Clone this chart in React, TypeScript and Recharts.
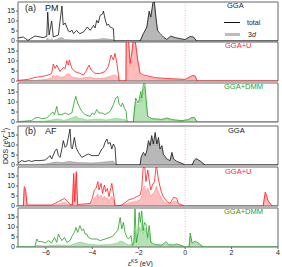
import { ComposedChart, Line, Area, XAxis, YAxis, ReferenceLine, ReferenceArea } from 'recharts';

type P = [number, number];

const eTicks = [-6, -4, -2, 0, 2, 4];
const dosTicks = [0, 5, 10, 15];

// (a) PM
const pmGgaTotal: P[] = [[-7.2,1.5],[-6.97,2],[-6.77,0.3],[-6.47,2.5],[-6.12,1.7],[-5.96,2.3],[-5.92,14.5],[-5.86,3],[-5.75,10],[-5.68,2],[-5.46,3],[-5.31,17.5],[-5.25,8],[-5.17,9],[-5.10,7],[-5.03,5],[-4.96,4.5],[-4.88,5.5],[-4.81,3.7],[-4.67,5.3],[-4.6,4.2],[-4.53,3.7],[-4.38,4.5],[-4.28,6],[-4.21,7],[-4.09,5.3],[-3.95,7.8],[-3.88,6.5],[-3.81,10.3],[-3.74,9],[-3.66,12.8],[-3.56,13.5],[-3.52,15],[-3.45,11],[-3.37,7.8],[-3.31,8.5],[-3.23,7],[-3.09,6.2],[-3.06,0],[-1.94,0],[-1.80,3.7],[-1.65,7],[-1.55,15],[-1.48,12],[-1.39,19],[-1.34,21],[-1.26,12],[-1.19,5.3],[-1.08,3.7],[-0.94,2],[-0.79,0.8],[-0.62,2.5],[-0.43,1.7],[-0.22,1.2],[0,0.7],[0.22,2.3],[0.36,2],[0.5,0],[4,0]];
const pmGga3d: P[] = [[-7.2,0.1],[-6.0,0.2],[-5.92,1.5],[-5.86,0.3],[-5.75,1],[-5.68,0.3],[-5.31,1.8],[-5.2,0.8],[-4.8,0.5],[-4.2,0.6],[-3.8,0.8],[-3.52,1.2],[-3.1,0.6],[-3.06,0],[-1.94,0],[-1.80,3.2],[-1.65,6.5],[-1.55,14],[-1.48,11],[-1.39,18.5],[-1.34,20.5],[-1.26,11.5],[-1.19,4.6],[-1.08,3],[-0.94,1.6],[-0.79,0.6],[-0.62,2.2],[-0.43,1.4],[-0.22,1],[0,0.5],[0.22,2],[0.36,1.7],[0.5,0],[4,0]];

const pmUTotal: P[] = [[-7.2,0.3],[-6.75,0.8],[-6.47,1.8],[-6.18,2.2],[-5.89,3],[-5.75,3.8],[-5.68,8.5],[-5.60,6.3],[-5.53,8],[-5.39,4.7],[-5.25,6.8],[-5.17,6.3],[-5.10,10.2],[-5.03,8],[-4.99,10.5],[-4.88,6.3],[-4.74,4.7],[-4.53,3.8],[-4.38,3],[-4.28,4.7],[-4.14,8],[-4.05,5.5],[-3.88,3.8],[-3.66,3.8],[-3.45,4.7],[-3.31,7.2],[-3.19,13],[-3.09,10.5],[-3.02,13.8],[-2.94,8.8],[-2.84,0],[-2.55,0],[-2.54,21],[-2.44,21],[-2.37,8.8],[-2.30,14],[-2.23,21],[-2.16,21],[-2.04,10.5],[-1.94,3.8],[-1.80,3],[-1.29,1.7],[-0.86,1.3],[-0.29,1],[0,0.8],[0.22,2.2],[0.34,2.8],[0.43,2.5],[0.52,0],[4,0]];
const pmU3d: P[] = [[-7.2,0],[-6.5,0.3],[-6.0,0.8],[-5.75,1.5],[-5.68,3],[-5.60,2],[-5.53,2.8],[-5.39,1.8],[-5.17,2.2],[-5.10,3.5],[-4.99,3.5],[-4.88,2],[-4.53,1.2],[-4.14,2],[-3.88,1.2],[-3.45,1.5],[-3.19,2.5],[-3.02,3],[-2.90,2],[-2.84,0],[-2.55,0],[-2.54,19],[-2.44,19],[-2.37,7],[-2.30,12],[-2.23,20],[-2.16,20],[-2.04,9],[-1.94,3],[-1.80,2.3],[-1.29,1.2],[-0.86,1],[-0.29,0.7],[0,0.5],[0.22,1.8],[0.34,2.4],[0.43,2.1],[0.52,0],[4,0]];

const pmDmmTotal: P[] = [[-7.2,0.2],[-6.61,0.7],[-6.47,2],[-6.32,2.3],[-6.18,1.7],[-5.96,2],[-5.82,3.7],[-5.70,5],[-5.63,3.7],[-5.53,7.8],[-5.46,3.7],[-5.31,3.7],[-5.17,4.5],[-5.03,3.7],[-4.88,4.5],[-4.77,10.3],[-4.71,12.8],[-4.63,9.5],[-4.53,7],[-4.45,5.3],[-4.31,3.7],[-4.09,2.8],[-4.00,4.5],[-3.91,3.7],[-3.81,6.2],[-3.71,4.5],[-3.59,4.5],[-3.45,3.7],[-3.23,5.3],[-3.09,8.7],[-2.99,12],[-2.90,12.8],[-2.84,8.7],[-2.76,7.8],[-2.70,9.5],[-2.62,7],[-2.54,5.3],[-2.50,0],[-2.23,0],[-2.20,4.5],[-2.13,12],[-2.04,9.5],[-1.98,11],[-1.91,15.3],[-1.87,12],[-1.80,18.7],[-1.75,21],[-1.68,11],[-1.61,2.8],[-1.44,1.7],[-1.00,1.3],[-0.79,2],[-0.57,1.2],[-0.14,0.7],[0.14,1.2],[0.29,2.3],[0.40,2.2],[0.52,0],[4,0]];
const pmDmm3d: P[] = [[-7.2,0],[-6.5,0.3],[-6.0,0.5],[-5.53,1.5],[-5.2,0.8],[-4.77,2.5],[-4.71,3],[-4.6,2],[-4.2,1],[-3.81,1.5],[-3.4,1],[-3.0,1.8],[-2.76,1.5],[-2.55,1],[-2.50,0],[-2.23,0],[-2.20,3.5],[-2.13,10],[-2.04,8],[-1.98,9.5],[-1.91,13],[-1.87,10],[-1.80,16],[-1.75,18],[-1.68,9],[-1.61,2.3],[-1.44,1.3],[-1.00,1],[-0.79,1.6],[-0.57,0.9],[-0.14,0.5],[0.14,0.9],[0.29,1.9],[0.40,1.8],[0.52,0],[4,0]];

// (b) AF
const afGgaTotal: P[] = [[-7.2,1],[-7.04,2.2],[-6.90,1.7],[-6.75,2.2],[-6.61,1.8],[-6.47,2.2],[-6.25,2.2],[-6.03,2.5],[-5.89,3.8],[-5.82,4.7],[-5.75,3],[-5.60,7.2],[-5.53,8],[-5.46,4.7],[-5.39,3.8],[-5.31,8],[-5.25,12.2],[-5.17,8.8],[-5.10,9.7],[-5.03,13.8],[-4.96,18],[-4.91,8.8],[-4.86,8],[-4.77,13.8],[-4.70,8.8],[-4.60,6.3],[-4.45,3.8],[-4.31,4.7],[-4.17,5.5],[-4.02,4.7],[-3.88,4.7],[-3.74,4.7],[-3.59,8],[-3.52,8.8],[-3.45,11.3],[-3.37,13],[-3.31,10.5],[-3.23,11.3],[-3.16,8],[-3.09,10.5],[-3.02,8.8],[-2.97,0],[-1.94,0],[-1.90,3.8],[-1.80,6.3],[-1.72,4.7],[-1.65,7.2],[-1.58,12.2],[-1.51,9.7],[-1.44,14.7],[-1.37,10.5],[-1.29,16.3],[-1.22,10.5],[-1.15,13.8],[-1.08,8],[-1.00,9.7],[-0.94,5.5],[-0.79,3],[-0.65,2.2],[-0.57,6.3],[-0.50,3],[-0.36,1.8],[-0.14,0.8],[0,0],[0.30,0],[0.40,2.5],[0.47,3.2],[0.56,2.6],[0.65,2],[0.86,0],[4,0]];
const afGga3d: P[] = [[-7.2,0.2],[-6.5,0.3],[-6.0,0.5],[-5.6,1.5],[-5.3,1.2],[-5.0,1.8],[-4.6,1.2],[-4.0,1],[-3.5,1.5],[-3.1,2],[-2.97,0],[-1.94,0],[-1.90,3],[-1.80,5.3],[-1.72,4],[-1.65,6.3],[-1.58,11],[-1.51,8.7],[-1.44,13.5],[-1.37,9.5],[-1.29,15],[-1.22,9.5],[-1.15,12.5],[-1.08,7],[-1.00,8.7],[-0.94,4.7],[-0.79,2.5],[-0.65,1.8],[-0.57,5.5],[-0.50,2.5],[-0.36,1.4],[-0.14,0.6],[0,0],[0.30,0],[0.40,2.2],[0.47,2.9],[0.56,2.3],[0.65,1.7],[0.86,0],[4,0]];

const afUTotal: P[] = [[-7.2,0],[-6.97,0],[-6.93,9.7],[-6.87,8],[-6.81,0.5],[-5.75,0.5],[-5.46,2.2],[-5.20,3.8],[-5.06,2.2],[-4.96,0.8],[-4.86,0.5],[-4.80,16.3],[-4.76,2.2],[-4.69,17.2],[-4.63,0.5],[-4.53,0.8],[-4.09,1.3],[-4.00,3.8],[-3.91,8],[-3.84,8.8],[-3.76,12.2],[-3.71,8],[-3.62,11.3],[-3.56,6.3],[-3.48,10.5],[-3.42,7.2],[-3.35,8.8],[-3.28,4.7],[-3.16,11.3],[-3.07,4.7],[-3.02,0],[-2.73,0.5],[-2.44,3],[-2.23,3.8],[-2.08,4.7],[-1.94,5.5],[-1.87,8.8],[-1.81,18.8],[-1.75,21],[-1.69,12.2],[-1.61,18],[-1.55,13],[-1.48,8],[-1.41,10.5],[-1.32,12.2],[-1.24,21],[-1.15,13],[-1.03,7.2],[-0.94,4.7],[-0.79,2.2],[-0.65,1.3],[-0.50,4.3],[-0.36,3.8],[-0.29,1.3],[-0.14,0.5],[0,0],[3.36,0],[3.45,7],[3.49,6],[3.58,2.5],[3.75,0],[4,0]];
const afU3d: P[] = [[-7.2,0],[-6.97,0],[-6.93,8.5],[-6.87,7],[-6.81,0.3],[-5.75,0.2],[-5.46,1],[-5.20,1.8],[-5.06,1],[-4.86,0.3],[-4.80,15],[-4.76,2],[-4.69,16],[-4.63,0.3],[-4.09,0.8],[-4.00,2],[-3.91,4],[-3.84,4.5],[-3.76,6],[-3.71,4],[-3.62,5.5],[-3.56,3.3],[-3.48,5],[-3.42,3.5],[-3.35,4.2],[-3.28,2.5],[-3.16,5],[-3.07,2.5],[-3.02,0],[-2.73,0.3],[-2.44,1.5],[-2.23,2],[-2.08,2.5],[-1.94,3],[-1.87,5],[-1.81,9],[-1.75,10],[-1.69,6.5],[-1.61,9],[-1.55,7],[-1.48,4.5],[-1.41,6],[-1.32,7],[-1.24,10],[-1.15,7],[-1.03,4],[-0.94,2.5],[-0.79,1.2],[-0.65,0.8],[-0.50,2.5],[-0.36,2.2],[-0.29,0.8],[-0.14,0.3],[0,0],[3.36,0],[3.45,6],[3.49,5],[3.58,2],[3.75,0],[4,0]];

const afDmmTotal: P[] = [[-7.2,0],[-6.54,0],[-6.47,0.3],[-6.39,4],[-6.32,2.7],[-6.18,2.7],[-6.03,2],[-5.89,3.2],[-5.75,2],[-5.63,4.8],[-5.53,2.3],[-5.46,6.5],[-5.39,4.8],[-5.31,3.2],[-5.20,4.8],[-5.10,2.3],[-4.96,3.2],[-4.86,5.7],[-4.77,7.3],[-4.70,9.8],[-4.63,7.3],[-4.53,10.7],[-4.45,8.2],[-4.38,9],[-4.31,6.5],[-4.24,6.5],[-4.17,4.8],[-4.02,4],[-3.81,4],[-3.66,3.2],[-3.45,4],[-3.23,4.8],[-3.09,5.7],[-2.99,7.3],[-2.90,8.2],[-2.80,14.8],[-2.73,9],[-2.66,12.3],[-2.59,7.3],[-2.51,4.8],[-2.44,4],[-2.33,5.7],[-2.27,0.7],[-2.21,2.3],[-2.16,19],[-2.10,2.3],[-2.04,6.5],[-1.98,17.3],[-1.93,12.3],[-1.87,18],[-1.81,8.2],[-1.75,12.3],[-1.69,11.5],[-1.62,4.8],[-1.55,10.7],[-1.47,2.3],[-1.29,1.2],[-1.00,1],[-0.82,2.7],[-0.72,1.2],[-0.50,1],[-0.36,1.5],[-0.14,0.7],[0,0],[0.17,0],[0.22,7],[0.30,2],[0.43,3],[0.56,2],[0.78,0],[4,0]];
const afDmm3d: P[] = [[-7.2,0],[-6.47,0],[-6.39,0.8],[-6.0,0.5],[-5.5,1],[-5.0,0.8],[-4.7,1.8],[-4.53,2.5],[-4.38,2],[-4.1,1.2],[-3.7,1],[-3.2,1.3],[-2.9,2],[-2.80,3],[-2.66,2.5],[-2.44,1],[-2.33,1.5],[-2.27,0.5],[-2.21,1.5],[-2.16,8],[-2.10,2],[-2.04,5],[-1.98,10],[-1.93,8],[-1.87,12],[-1.81,6.5],[-1.75,9.5],[-1.69,9],[-1.62,3.5],[-1.55,7],[-1.47,1.6],[-1.29,0.8],[-1.00,0.7],[-0.82,1.8],[-0.72,0.8],[-0.50,0.6],[-0.36,1],[-0.14,0.4],[0,0],[0.17,0],[0.22,5.5],[0.30,1.5],[0.43,2.4],[0.56,1.5],[0.78,0],[4,0]];

const pts = (a: P[]) => a.map(([e, v]) => ({ e, v }));

const FONT = '"Liberation Sans", Arial, sans-serif';

const BLACK = { line: '#111', fill: '#b8b8b8', edge: '#9a9a9a' };
const RED = { line: '#ff1a1a', fill: '#ffbcbc', edge: '#ff8a8a' };
const GREEN = { line: '#1fa01f', fill: '#b5e3b5', edge: '#7fcc7f' };

const PH = 39;
const PAD = 5;

function Panel({ top, total, d3, c, showX }: { top: number; total: P[]; d3: P[]; c: typeof BLACK; showX?: boolean }) {
  return (
    <div style={{ position: 'absolute', left: 0, top: top - PAD }}>
      <ComposedChart width={282} height={PH + 2 * PAD + (showX ? 12 : 0)} margin={{ top: PAD, right: 4, bottom: PAD, left: 0 }}>
        <XAxis
          type="number"
          dataKey="e"
          domain={[-7.2, 4]}
          ticks={eTicks}
          interval={0}
          allowDataOverflow
          hide={!showX}
          height={12}
          tickSize={2}
          tickMargin={1}
          axisLine={false}
          tick={{ fontSize: 7, fill: '#222', fontFamily: FONT }}
          tickFormatter={(v: number) => (v < 0 ? '\u2212' + Math.abs(v) : String(v))}
        />
        <YAxis
          type="number"
          domain={[0, 19.5]}
          ticks={dosTicks}
          interval={0}
          allowDataOverflow
          width={18}
          tickSize={2}
          tickMargin={1}
          axisLine={false}
          tick={{ fontSize: 7, fill: '#222', fontFamily: FONT }}
        />
        <ReferenceLine x={0} stroke="#f4a0b4" strokeDasharray="1 1.5" strokeWidth={0.8} />
        <Area type="linear" data={pts(d3)} dataKey="v" stroke={c.edge} strokeWidth={0.6} fill={c.fill} fillOpacity={1} dot={false} activeDot={false} isAnimationActive={false} />
        <Line type="linear" data={pts(total)} dataKey="v" stroke={c.line} strokeWidth={0.8} dot={false} activeDot={false} isAnimationActive={false} />
        <ReferenceArea x1={-7.2} x2={4} y1={0} y2={19.5} fill="none" stroke="#666" strokeWidth={1} />
      </ComposedChart>
    </div>
  );
}

function Txt({ x, y, size = 7.5, color = '#222', children }: { x: number; y: number; size?: number; color?: string; children: React.ReactNode }) {
  return (
    <div style={{ position: 'absolute', left: x, top: y - size / 2, fontSize: size, lineHeight: 1, color, fontFamily: FONT, whiteSpace: 'nowrap' }}>
      {children}
    </div>
  );
}

export default function App() {
  return (
    <div style={{ position: 'absolute', left: 0, top: 0, width: 282, height: 267, background: '#fff', overflow: 'hidden' }}>
      <Panel top={2} total={pmGgaTotal} d3={pmGga3d} c={BLACK} />
      <Panel top={42} total={pmUTotal} d3={pmU3d} c={RED} />
      <Panel top={83} total={pmDmmTotal} d3={pmDmm3d} c={GREEN} />
      <Panel top={126} total={afGgaTotal} d3={afGga3d} c={BLACK} />
      <Panel top={167} total={afUTotal} d3={afU3d} c={RED} />
      <Panel top={208} total={afDmmTotal} d3={afDmm3d} c={GREEN} showX />

      <Txt x={25} y={8} size={9}>(a)</Txt>
      <Txt x={45} y={8} size={9}>PM</Txt>
      <Txt x={227} y={6}>GGA</Txt>
      <div style={{ position: 'absolute', left: 224, top: 22, width: 16, height: 1, background: '#111' }} />
      <Txt x={247} y={22.5} size={7}>total</Txt>
      <div style={{ position: 'absolute', left: 225, top: 33, width: 15, height: 3, background: '#bdbdbd' }} />
      <Txt x={248} y={34.5} size={7}>3<i>d</i></Txt>
      <Txt x={225} y={46} color={RED.line}>GGA+U</Txt>
      <Txt x={224} y={87} color={GREEN.line}>GGA+DMM</Txt>

      <Txt x={25} y={131} size={9}>(b)</Txt>
      <Txt x={45} y={131} size={9}>AF</Txt>
      <Txt x={228} y={131}>GGA</Txt>
      <Txt x={225} y={172} color={RED.line}>GGA+U</Txt>
      <Txt x={224} y={212} color={GREEN.line}>GGA+DMM</Txt>

      <Txt x={128} y={262} size={7}><i>ε</i><sup style={{ fontSize: 5, verticalAlign: 'super' }}>KS</sup> (eV)</Txt>
      <div style={{ position: 'absolute', left: 5, top: 146, transform: 'translate(-50%, -50%) rotate(-90deg)', fontSize: 7, lineHeight: 1, color: '#222', fontFamily: FONT, whiteSpace: 'nowrap' }}>
        DOS (eV<sup style={{ fontSize: 5, verticalAlign: 'super' }}>−1</sup>)
      </div>
    </div>
  );
}
